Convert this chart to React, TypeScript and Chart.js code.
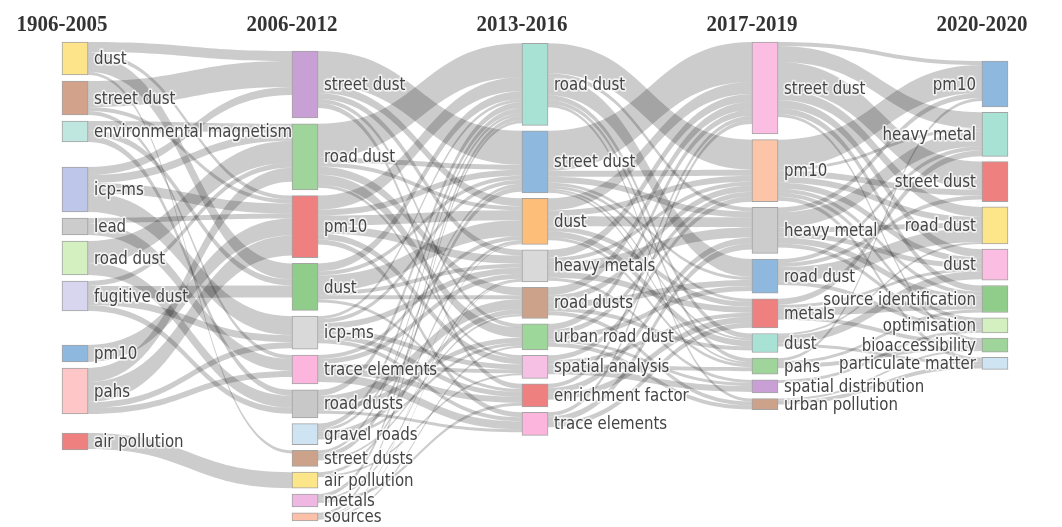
import React, { useEffect, useRef } from "react";
import { Chart, registerables } from "chart.js";

Chart.register(...registerables);

// ---------------- DATA ----------------
const periods = ["1906-2005", "2006-2012", "2013-2016", "2017-2019", "2020-2020"];

const topics1906 = ["dust", "street dust", "environmental magnetism", "icp-ms", "lead", "road dust", "fugitive dust", "pm10", "pahs", "air pollution"];
const weights1906 = [33, 34, 21, 45, 17, 34, 30, 17, 46, 17];

const topics2006 = ["street dust", "road dust", "pm10", "dust", "icp-ms", "trace elements", "road dusts", "gravel roads", "street dusts", "air pollution", "metals", "sources"];
const weights2006 = [67, 66, 62, 47, 33, 29, 28, 21, 16, 16, 13, 8];

const topics2013 = ["road dust", "street dust", "dust", "heavy metals", "road dusts", "urban road dust", "spatial analysis", "enrichment factor", "trace elements"];
const weights2013 = [82, 62, 46, 32, 31, 26, 23, 23, 23];

const topics2017 = ["street dust", "pm10", "heavy metal", "road dust", "metals", "dust", "pahs", "spatial distribution", "urban pollution"];
const weights2017 = [92, 62, 46, 34, 29, 19, 16, 13, 11];

const topics2020 = ["pm10", "heavy metal", "street dust", "road dust", "dust", "source identification", "optimisation", "bioaccessibility", "particulate matter"];
const weights2020 = [46, 44, 40, 37, 31, 27, 15, 14, 12];

type Flow = [string, string, number];

const flows1906to2006: Flow[] = [
  ["dust", "street dust", 10], ["dust", "dust", 16], ["dust", "pm10", 4], ["dust", "street dusts", 3],
  ["street dust", "street dust", 26], ["street dust", "pm10", 4], ["street dust", "trace elements", 4],
  ["environmental magnetism", "road dust", 9], ["environmental magnetism", "dust", 6], ["environmental magnetism", "road dusts", 6],
  ["icp-ms", "street dust", 8], ["icp-ms", "road dust", 8], ["icp-ms", "pm10", 10], ["icp-ms", "icp-ms", 19],
  ["lead", "pm10", 5], ["lead", "trace elements", 12],
  ["road dust", "road dust", 22], ["road dust", "road dusts", 12],
  ["fugitive dust", "road dust", 5], ["fugitive dust", "dust", 12], ["fugitive dust", "icp-ms", 7], ["fugitive dust", "road dusts", 6],
  ["pm10", "pm10", 17],
  ["pahs", "road dust", 14], ["pahs", "pm10", 20], ["pahs", "icp-ms", 6], ["pahs", "trace elements", 6],
  ["air pollution", "air pollution", 16],
];

const flows2006to2013: Flow[] = [
  ["street dust", "street dust", 34], ["street dust", "dust", 8], ["street dust", "heavy metals", 6], ["street dust", "urban road dust", 4], ["street dust", "enrichment factor", 5],
  ["road dust", "road dust", 34], ["road dust", "street dust", 5], ["road dust", "dust", 4], ["road dust", "road dusts", 8], ["road dust", "urban road dust", 10], ["road dust", "spatial analysis", 3],
  ["pm10", "road dust", 14], ["pm10", "street dust", 6], ["pm10", "dust", 10], ["pm10", "heavy metals", 8], ["pm10", "spatial analysis", 6], ["pm10", "trace elements", 5],
  ["dust", "road dust", 8], ["dust", "street dust", 4], ["dust", "dust", 16], ["dust", "heavy metals", 4], ["dust", "road dusts", 4], ["dust", "enrichment factor", 3],
  ["icp-ms", "road dust", 3], ["icp-ms", "street dust", 4], ["icp-ms", "heavy metals", 6], ["icp-ms", "spatial analysis", 5], ["icp-ms", "enrichment factor", 5], ["icp-ms", "trace elements", 4],
  ["trace elements", "dust", 4], ["trace elements", "heavy metals", 5], ["trace elements", "spatial analysis", 4], ["trace elements", "enrichment factor", 6], ["trace elements", "trace elements", 8],
  ["road dusts", "road dust", 6], ["road dusts", "road dusts", 10], ["road dusts", "urban road dust", 5], ["road dusts", "trace elements", 3],
  ["gravel roads", "road dust", 5], ["gravel roads", "street dust", 3], ["gravel roads", "road dusts", 5], ["gravel roads", "urban road dust", 3],
  ["street dusts", "road dust", 3], ["street dusts", "street dust", 5], ["street dusts", "road dusts", 2],
  ["air pollution", "dust", 3], ["air pollution", "spatial analysis", 2],
  ["metals", "road dust", 4], ["metals", "heavy metals", 2], ["metals", "enrichment factor", 3],
  ["sources", "road dust", 3], ["sources", "dust", 1], ["sources", "heavy metals", 1], ["sources", "urban road dust", 2],
];

const flows2013to2017: Flow[] = [
  ["road dust", "pm10", 30], ["road dust", "heavy metal", 4], ["road dust", "road dust", 18], ["road dust", "dust", 5], ["road dust", "pahs", 4], ["road dust", "urban pollution", 3],
  ["street dust", "street dust", 40], ["street dust", "pm10", 6], ["street dust", "heavy metal", 6], ["street dust", "road dust", 3], ["street dust", "metals", 3], ["street dust", "dust", 2], ["street dust", "pahs", 2],
  ["dust", "street dust", 12], ["dust", "pm10", 6], ["dust", "heavy metal", 10], ["dust", "metals", 5], ["dust", "dust", 6], ["dust", "pahs", 3],
  ["heavy metals", "street dust", 8], ["heavy metals", "pm10", 4], ["heavy metals", "heavy metal", 10], ["heavy metals", "metals", 6], ["heavy metals", "spatial distribution", 3],
  ["road dusts", "street dust", 8], ["road dusts", "pm10", 6], ["road dusts", "road dust", 6], ["road dusts", "dust", 4], ["road dusts", "urban pollution", 4],
  ["urban road dust", "street dust", 6], ["urban road dust", "pm10", 5], ["urban road dust", "road dust", 5], ["urban road dust", "spatial distribution", 3], ["urban road dust", "urban pollution", 4],
  ["spatial analysis", "pm10", 5], ["spatial analysis", "metals", 4], ["spatial analysis", "pahs", 4], ["spatial analysis", "spatial distribution", 6],
  ["enrichment factor", "street dust", 4], ["enrichment factor", "heavy metal", 6], ["enrichment factor", "metals", 6],
  ["trace elements", "street dust", 4], ["trace elements", "heavy metal", 6], ["trace elements", "metals", 5],
];

const flows2017to2020: Flow[] = [
  ["street dust", "pm10", 4], ["street dust", "heavy metal", 16], ["street dust", "street dust", 28], ["street dust", "road dust", 10], ["street dust", "dust", 8], ["street dust", "source identification", 6], ["street dust", "bioaccessibility", 3],
  ["pm10", "pm10", 28], ["pm10", "heavy metal", 3], ["pm10", "street dust", 6], ["pm10", "road dust", 6], ["pm10", "dust", 6], ["pm10", "source identification", 4], ["pm10", "optimisation", 4], ["pm10", "particulate matter", 4],
  ["heavy metal", "pm10", 5], ["heavy metal", "heavy metal", 15], ["heavy metal", "road dust", 5], ["heavy metal", "dust", 5], ["heavy metal", "source identification", 6], ["heavy metal", "optimisation", 4],
  ["road dust", "heavy metal", 4], ["road dust", "street dust", 4], ["road dust", "road dust", 14], ["road dust", "optimisation", 4],
  ["metals", "heavy metal", 6], ["metals", "dust", 3], ["metals", "source identification", 8], ["metals", "bioaccessibility", 4],
  ["dust", "road dust", 2], ["dust", "dust", 8], ["dust", "particulate matter", 3],
  ["pahs", "pm10", 3], ["pahs", "source identification", 3], ["pahs", "bioaccessibility", 4],
  ["spatial distribution", "optimisation", 3],
  ["urban pollution", "bioaccessibility", 2], ["urban pollution", "particulate matter", 4],
];

// ---------------- STYLE / LAYOUT ----------------
const colors1906 = ["#fde48a", "#d2a38a", "#bfe7df", "#bec7ea", "#cccccc", "#d4efc0", "#d8d6ee", "#8fb8de", "#fec6c6", "#ef8080"];
const colors2006 = ["#c9a0d6", "#9fd49a", "#ef8080", "#90cc8a", "#d9d9d9", "#fcb6dd", "#c8c8c8", "#cfe4f2", "#cca38a", "#fde58a", "#efb8e2", "#fcc0a8"];
const colors2013 = ["#a8e2d4", "#8fb8de", "#fdbe7a", "#d9d9d9", "#cca38a", "#9ed79a", "#f5c0e4", "#ef8080", "#fcb6dd"];
const colors2017 = ["#fcbde2", "#fcc5a8", "#cccccc", "#8fb8de", "#ef8080", "#a8e2d4", "#9fd49a", "#c9a0d6", "#cca38a"];
const colors2020 = ["#8fb8de", "#a8e2d4", "#ef8080", "#fde58a", "#fcbde2", "#90cc8a", "#d4efc0", "#9fd49a", "#cfe4f2"];

const columnTop = [0, 9, 1.3, 0, 19];
const columnPad = [6, 5.8, 5.5, 5.7, 5.3];
const extraSpace: number[][] = [[0, 0, 0, 19, 0, 0, 0, 28, 0, 13], [], [], [], []];

const NODE_W = 26;
const LINK_COLOR = "rgba(0,0,0,0.2)";
const LABEL_FONT = '15px "DejaVu Sans", Verdana, sans-serif';
const LABEL_STRETCH = 1.2;
const TITLE_FONT = 'bold 21px "Liberation Serif", "Times New Roman", serif';
const TITLE_STRETCH = 1.08;

type NodeT = { col: number; name: string; value: number; color: string; y0: number; y1: number };
type LinkT = { s: NodeT; t: NodeT; v: number; sy: number; ty: number };

function buildLayout() {
  const cols = [
    [topics1906, weights1906, colors1906],
    [topics2006, weights2006, colors2006],
    [topics2013, weights2013, colors2013],
    [topics2017, weights2017, colors2017],
    [topics2020, weights2020, colors2020],
  ] as [string[], number[], string[]][];
  const nodes: NodeT[] = [];
  const byCol: NodeT[][] = [];
  cols.forEach(([names, vals, cs], c) => {
    let cursor = columnTop[c];
    const list: NodeT[] = [];
    names.forEach((name, i) => {
      cursor += extraSpace[c][i] || 0;
      const n: NodeT = { col: c, name, value: vals[i], color: cs[i], y0: cursor, y1: cursor + vals[i] };
      cursor = n.y1 + columnPad[c];
      list.push(n);
      nodes.push(n);
    });
    byCol.push(list);
  });
  const flowSets = [flows1906to2006, flows2006to2013, flows2013to2017, flows2017to2020];
  const links: LinkT[] = [];
  flowSets.forEach((fs, g) => {
    fs.forEach(([a, b, v]) => {
      const s = byCol[g].find((n) => n.name === a);
      const t = byCol[g + 1].find((n) => n.name === b);
      if (s && t) links.push({ s, t, v, sy: 0, ty: 0 });
    });
  });
  nodes.forEach((n) => {
    let c1 = n.y0;
    links.filter((l) => l.s === n).sort((p, q) => p.t.y0 - q.t.y0).forEach((l) => { l.sy = c1; c1 += l.v; });
    let c2 = n.y0;
    links.filter((l) => l.t === n).sort((p, q) => p.s.y0 - q.s.y0).forEach((l) => { l.ty = c2; c2 += l.v; });
  });
  return { nodes, links };
}

function drawStretched(ctx: CanvasRenderingContext2D, text: string, x: number, y: number, sy: number, halo: boolean) {
  ctx.save();
  ctx.translate(x, y);
  ctx.scale(1, sy);
  if (halo) {
    ctx.strokeStyle = "rgba(255,255,255,0.7)";
    ctx.lineWidth = 3;
    ctx.strokeText(text, 0, 0);
  }
  ctx.fillText(text, 0, 0);
  ctx.restore();
}

export default function App() {
  const ref = useRef<HTMLCanvasElement | null>(null);

  useEffect(() => {
    document.body.style.margin = "0";
    const canvas = ref.current;
    if (!canvas) return;
    const { nodes, links } = buildLayout();

    const geom = (chart: any, n: NodeT) => {
      const i = nodes.indexOf(n);
      const el = chart.getDatasetMeta(0).data[i] as any;
      return { cx: el.x as number, hw: (el.width as number) / 2 };
    };

    const linkPlugin = {
      id: "sankeyLinks",
      beforeDatasetsDraw(chart: any) {
        const ctx = chart.ctx as CanvasRenderingContext2D;
        const ys = chart.scales.y;
        ctx.save();
        ctx.fillStyle = LINK_COLOR;
        links.forEach((l) => {
          const gs = geom(chart, l.s);
          const gt = geom(chart, l.t);
          const x0 = gs.cx + gs.hw;
          const x1 = gt.cx - gt.hw;
          const xm = (x0 + x1) / 2;
          const s0 = ys.getPixelForValue(l.sy);
          const s1 = ys.getPixelForValue(l.sy + l.v);
          const t0 = ys.getPixelForValue(l.ty);
          const t1 = ys.getPixelForValue(l.ty + l.v);
          ctx.beginPath();
          ctx.moveTo(x0, s0);
          ctx.bezierCurveTo(xm, s0, xm, t0, x1, t0);
          ctx.lineTo(x1, t1);
          ctx.bezierCurveTo(xm, t1, xm, s1, x0, s1);
          ctx.closePath();
          ctx.fill();
        });
        ctx.restore();
      },
    };

    const labelPlugin = {
      id: "sankeyLabels",
      afterDatasetsDraw(chart: any) {
        const ctx = chart.ctx as CanvasRenderingContext2D;
        const ys = chart.scales.y;
        ctx.save();
        ctx.font = LABEL_FONT;
        ctx.textBaseline = "middle";
        ctx.lineJoin = "round";
        ctx.fillStyle = "#444";
        nodes.forEach((n) => {
          const g = geom(chart, n);
          const y = (ys.getPixelForValue(n.y0) + ys.getPixelForValue(n.y1)) / 2 + 1;
          const last = n.col === periods.length - 1;
          const x = last ? g.cx - g.hw - 6 : g.cx + g.hw + 6;
          ctx.textAlign = last ? "right" : "left";
          drawStretched(ctx, n.name, x, y, LABEL_STRETCH, true);
        });
        ctx.font = TITLE_FONT;
        ctx.textAlign = "center";
        ctx.fillStyle = "#333";
        periods.forEach((p, c) => {
          const first = nodes.find((n) => n.col === c)!;
          const g = geom(chart, first);
          drawStretched(ctx, p, g.cx - g.hw, 25, TITLE_STRETCH, false);
        });
        ctx.restore();
      },
    };

    const chart = new Chart(canvas, {
      type: "bar",
      data: {
        datasets: [
          {
            data: nodes.map((n) => ({ x: n.col, y: [n.y0, n.y1] })) as any,
            backgroundColor: nodes.map((n) => n.color),
            borderColor: "rgba(90,90,90,0.55)",
            borderWidth: 1,
            borderSkipped: false,
            barThickness: NODE_W,
            clip: false,
          } as any,
        ],
      },
      options: {
        animation: false,
        responsive: false,
        maintainAspectRatio: false,
        layout: { padding: { left: 75, right: 67, top: 42, bottom: 4 } },
        scales: {
          x: { type: "linear", min: 0, max: 4, offset: false, display: false },
          y: { type: "linear", min: 0, max: 481, reverse: true, display: false },
        },
        plugins: { legend: { display: false }, tooltip: { enabled: false }, title: { display: false } },
      },
      plugins: [linkPlugin, labelPlugin],
    });
    return () => chart.destroy();
  }, []);

  return (
    <div style={{ width: 1062, height: 527 }}>
      <canvas ref={ref} width={1062} height={527} style={{ display: "block" }} />
    </div>
  );
}
